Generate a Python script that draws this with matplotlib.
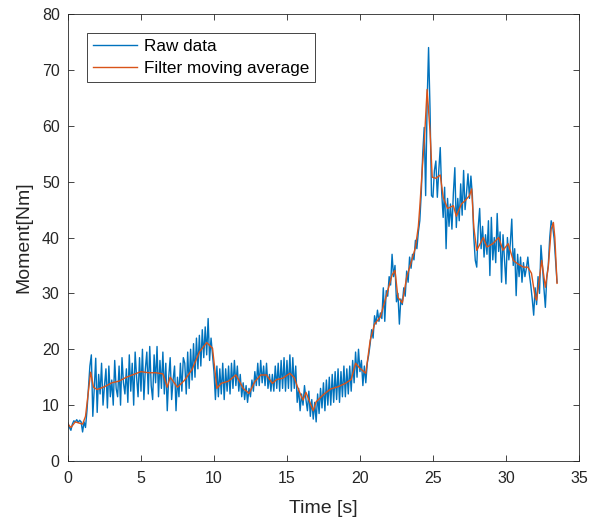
import numpy as np
import matplotlib.pyplot as plt

plt.rcParams['font.family'] = ['Liberation Sans', 'DejaVu Sans']

# Raw moment samples, one every 0.1 s (0 .. 33.5 s)
raw = [
    6.8, 6.0, 5.5, 6.6, 7.2, 7.0, 7.4, 6.9, 7.3, 7.0,
    5.2, 7.0, 6.0, 9.0, 13.0, 17.0, 19.0, 8.0, 13.0, 18.4,
    8.7, 15.5, 12.0, 17.5, 10.0, 13.5, 16.5, 9.5, 17.0, 11.5,
    14.5, 10.0, 18.0, 13.0, 11.5, 17.0, 10.0, 18.5, 14.0, 12.0,
    16.5, 10.5, 19.0, 12.5, 17.5, 10.0, 19.5, 15.0, 11.5, 18.5,
    12.5, 20.0, 11.0, 16.5, 19.5, 12.0, 20.5, 13.5, 11.0, 19.0,
    14.0, 20.5, 11.5, 18.0, 13.0, 19.5, 12.0, 17.5, 9.0, 15.0,
    18.5, 11.0, 14.5, 17.0, 9.0, 15.0, 11.5, 17.5, 12.5, 18.5,
    17.5, 12.0, 19.5, 13.0, 20.0, 14.5, 21.0, 15.0, 22.0, 16.5,
    22.5, 17.0, 23.5, 18.5, 24.0, 19.0, 25.5, 18.0, 22.0, 19.0,
    16.0, 11.0, 17.0, 11.5, 16.5, 12.0, 17.5, 11.0, 16.5, 12.5,
    17.0, 12.0, 17.5, 13.0, 18.0, 13.5, 17.0, 12.5, 15.5, 11.5,
    14.0, 11.0, 13.5, 10.5, 13.0, 11.5, 14.5, 12.5, 16.0, 13.5,
    17.5, 13.5, 18.0, 14.0, 17.0, 13.5, 17.5, 13.0, 15.5, 12.5,
    15.5, 12.5, 17.0, 13.0, 17.5, 12.5, 18.0, 13.0, 18.5, 12.5,
    18.0, 13.0, 19.0, 12.5, 18.5, 13.0, 17.0, 10.5, 13.0, 9.0,
    12.0, 10.0, 13.5, 11.0, 9.0, 12.5, 8.0, 11.0, 7.5, 10.5,
    7.0, 12.0, 8.5, 13.0, 9.5, 14.0, 9.0, 14.5, 10.0, 15.0,
    10.0, 15.5, 10.5, 16.0, 11.0, 16.5, 10.5, 16.0, 11.5, 17.0,
    11.5, 16.5, 12.0, 17.0, 12.5, 18.0, 14.0, 19.5, 15.0, 20.0,
    16.0, 18.0, 13.5, 17.0, 14.0, 17.5, 19.0, 21.0, 23.5, 22.0,
    26.0, 24.5, 27.0, 25.0, 26.5, 25.5, 31.0, 25.0, 30.5, 29.5,
    33.0, 31.5, 37.0, 33.0, 35.0, 28.5, 30.0, 24.5, 29.0, 28.0,
    31.0, 29.5, 34.0, 32.0, 36.5, 34.5, 37.0, 36.0, 39.5, 38.0,
    41.0, 43.0, 48.0, 55.0, 59.7, 47.5, 64.0, 74.0, 63.0, 47.5,
    47.2, 52.0, 53.7, 47.2, 52.0, 56.1, 48.0, 43.6, 49.0, 38.0,
    47.0, 42.0, 46.0, 41.5, 48.0, 52.5, 41.8, 47.0, 43.0, 49.6,
    44.0, 52.0, 45.0, 48.0, 51.4, 47.0, 51.0, 47.5, 40.0, 35.9,
    34.7, 41.8, 45.2, 38.0, 42.0, 36.5, 40.5, 37.0, 43.0, 33.2,
    43.6, 36.0, 40.0, 35.5, 44.3, 37.5, 41.0, 32.0, 40.5, 36.0,
    31.7, 40.0, 36.0, 39.0, 43.3, 35.0, 38.0, 29.6, 37.0, 33.0,
    36.5, 32.0, 35.5, 33.0, 34.5, 36.5, 33.5, 31.5, 29.0, 26.1,
    31.0, 28.0, 33.0, 30.0, 38.6, 35.0, 31.0, 27.5, 33.0, 35.0,
    40.0, 43.0, 42.0, 39.8, 36.0, 32.0,
]
t_raw = np.linspace(0, 33.5, len(raw))

# Filtered curve (moving average) read at its turning points
t_filt = [0.0, 0.2, 0.5, 1.0, 1.2, 1.4, 1.55, 1.75, 2.0, 2.5, 3.0, 3.5, 4.0, 4.5,
          5.0, 5.5, 6.0, 6.5, 6.8, 7.0, 7.5, 8.0, 8.5, 9.0, 9.5, 9.9, 10.2, 10.5,
          11.0, 11.5, 11.7, 12.0, 12.4, 12.8, 13.2, 13.6, 14.0, 14.3, 14.7, 15.2,
          15.5, 15.8, 16.1, 16.3, 16.8, 17.0, 17.5, 18.0, 18.5, 19.0, 19.4, 19.7,
          20.0, 20.4, 20.7, 21.0, 21.4, 21.8, 22.2, 22.4, 22.6, 22.9, 23.2, 23.5,
          23.8, 24.0, 24.1, 24.3, 24.4, 24.6, 24.8, 24.95, 25.2, 25.5, 25.7, 26.0,
          26.4, 26.6, 26.95, 27.2, 27.5, 27.65, 27.8, 28.0, 28.45, 28.7, 29.1, 29.5,
          29.8, 30.15, 30.5, 30.8, 31.2, 31.5, 31.75, 32.0, 32.1, 32.45, 32.7,
          32.9, 33.1, 33.25, 33.35, 33.5]
filt = [6.6, 6.0, 7.0, 6.6, 8.0, 12.5, 15.9, 13.2, 12.8, 13.3, 14.0, 14.3, 15.0, 15.5,
        16.0, 15.8, 15.8, 15.6, 13.2, 15.0, 13.2, 14.5, 16.4, 19.5, 21.2, 20.2, 13.0, 13.9,
        14.3, 15.4, 14.5, 13.0, 12.1, 14.2, 15.4, 15.4, 13.9, 14.6, 14.8, 15.7,
        14.9, 12.7, 10.9, 12.3, 9.0, 10.6, 11.9, 12.9, 13.3, 13.9, 14.6, 17.5,
        16.6, 15.7, 21.6, 24.5, 25.8, 29.5, 33.3, 34.1, 29.3, 28.3, 32.9, 35.5,
        38.2, 42.0, 45.5, 53.5, 56.8, 66.5, 59.0, 50.8, 50.6, 51.2, 47.2, 45.2,
        45.7, 43.8, 46.0, 46.6, 47.5, 48.7, 41.8, 37.7, 40.0, 38.3, 38.9, 40.0,
        37.7, 38.9, 35.9, 35.3, 34.7, 34.7, 33.6, 29.3, 28.8, 35.9, 31.1,
        34.7, 41.5, 42.7, 40.0, 31.8]

fig = plt.figure(figsize=(5.99, 5.23), dpi=100)
ax = fig.add_axes([0.1135, 0.1185, 0.853, 0.8547])

ax.plot(t_raw, raw, color='#0072BD', linewidth=1.0, label='Raw data')
ax.plot(t_filt, filt, color='#D95319', linewidth=1.0, label='Filter moving average')

ax.set_xlim(0, 35)
ax.set_ylim(0, 80)
ax.set_xticks(np.arange(0, 36, 5))
ax.set_yticks(np.arange(0, 81, 10))
ax.tick_params(direction='in', top=True, right=True, labelsize=11.5,
               length=4, width=0.6, colors='#262626')
ax.tick_params(axis='x', pad=7)
ax.tick_params(axis='y', pad=6)
for s in ax.spines.values():
    s.set_color('#262626')
    s.set_linewidth(0.6)

ax.set_xlabel('Time [s]', fontsize=14, color='#262626')
ax.set_ylabel('Moment[Nm]', fontsize=14, color='#262626')
ax.xaxis.set_label_coords(0.5, -0.088)
ax.yaxis.set_label_coords(-0.07, 0.5)

leg = ax.legend(loc='upper left', bbox_to_anchor=(0.0366, 0.957), borderaxespad=0,
                fontsize=12.3, fancybox=False, handlelength=2.6, framealpha=1,
                edgecolor='#262626', borderpad=0.35, labelspacing=0.4,
                handletextpad=0.4)
leg.get_frame().set_linewidth(0.6)

fig.savefig('out.png', dpi=100)
